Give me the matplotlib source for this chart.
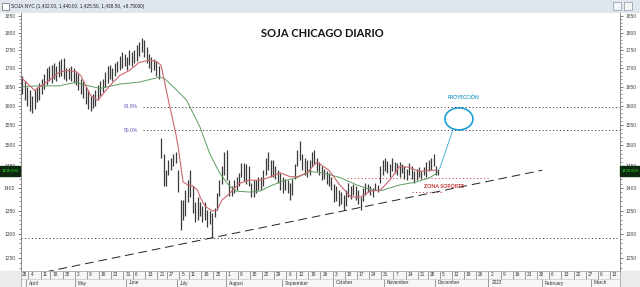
import matplotlib
matplotlib.use('Agg')
import matplotlib.pyplot as plt
import numpy as np
import pandas as pd
from matplotlib.patches import Ellipse, Rectangle
from matplotlib.ticker import FixedLocator, NullFormatter, FixedFormatter

# ---------------- data ----------------
holidays = ['2022-04-15', '2022-05-30', '2022-06-20', '2022-07-04', '2022-09-05', '2022-11-24']
hist_start, hist_end = '2022-03-28', '2022-12-02'
future_start, future_end = '2022-12-05', '2023-03-24'
first_bar = 2  # index of first bar drawn (Mar 30)

bar_lows = [
    1630, 1615, 1600, 1585, 1580, 1590, 1610, 1615, 1630, 1645, 1655, 1665, 1660, 1670, 1665, 1675, 1680, 1670, 1665,
    1670, 1665, 1660, 1655, 1640, 1630, 1620, 1605, 1590, 1585, 1595, 1600, 1615, 1625, 1635, 1650, 1660, 1670, 1665,
    1680, 1690, 1695, 1700, 1705, 1695, 1710, 1705, 1715, 1720, 1735, 1745, 1730, 1715, 1700, 1690,
    1695, 1680, 1670,
    1470, 1405, 1405, 1430, 1441, 1450, 1458, 1391, 1308, 1329, 1339, 1368, 1380, 1345, 1325, 1329, 1339, 1325, 1329,
    1315, 1320, 1292, 1335, 1351, 1382, 1410, 1430, 1418, 1382,
    1382, 1389, 1395, 1405, 1426, 1415, 1410, 1405, 1380, 1380, 1389, 1395, 1395, 1405, 1430, 1441, 1426, 1426, 1420,
    1412, 1395, 1389, 1395, 1389, 1373, 1385, 1420, 1450, 1465, 1441, 1430, 1426, 1430, 1450, 1455, 1440, 1430, 1418,
    1420, 1410, 1405, 1395, 1368,
    1370, 1360, 1365, 1351, 1360, 1380, 1375, 1385, 1373, 1365, 1352, 1370, 1385, 1390, 1385, 1380,
    1395, 1392, 1412, 1430, 1440, 1435, 1426, 1440, 1435, 1430, 1425, 1435, 1420, 1418, 1430, 1420, 1412, 1418, 1425,
    1420, 1430, 1426, 1440, 1441, 1450, 1430, 1430,
]
bar_highs = [
    1680, 1665, 1650, 1640, 1625, 1640, 1650, 1660, 1670, 1685, 1700, 1705, 1710, 1715, 1705, 1720, 1725, 1728, 1700,
    1700, 1705, 1700, 1690, 1685, 1670, 1665, 1650, 1640, 1625, 1630, 1640, 1655, 1665, 1670, 1690, 1705, 1710, 1700,
    1715, 1720, 1735, 1745, 1740, 1730, 1750, 1745, 1750, 1765, 1775, 1785, 1780, 1760, 1740, 1730,
    1725, 1720, 1705,
    1518, 1480, 1441, 1465, 1470, 1480, 1485, 1441, 1373, 1373, 1395, 1418, 1441, 1405, 1368, 1380, 1368, 1360, 1368,
    1351, 1350, 1345, 1355, 1389, 1418, 1450, 1485, 1489, 1418,
    1405, 1418, 1426, 1435, 1458, 1458, 1455, 1450, 1412, 1418, 1418, 1426, 1426, 1441, 1470, 1485, 1465, 1465, 1450,
    1441, 1435, 1426, 1420, 1418, 1412, 1420, 1455, 1489, 1510, 1480, 1470, 1465, 1465, 1485, 1489, 1470, 1460, 1450,
    1445, 1440, 1435, 1426, 1410,
    1405, 1395, 1390, 1385, 1395, 1412, 1405, 1410, 1405, 1395, 1380, 1400, 1412, 1410, 1405, 1400,
    1412, 1408, 1450, 1465, 1470, 1462, 1455, 1470, 1460, 1458, 1460, 1455, 1450, 1445, 1458, 1450, 1440, 1445, 1448,
    1440, 1448, 1460, 1465, 1470, 1480, 1450, 1445,
]

# moving averages (x = trading-day index)
red_x = [1.5, 7, 13, 17, 20, 24, 26, 28, 30, 33, 38, 42, 46, 50, 54, 57, 59, 62, 65, 66, 68, 70, 72, 74, 75, 77, 80,
         82, 84, 87, 91, 95, 100, 104, 108, 112, 115, 119, 123, 128, 132, 137, 141, 145, 149, 153, 157, 161, 165,
         169, 172]
red_ma = [1675, 1640, 1667, 1688, 1694, 1691, 1680, 1653, 1627, 1614, 1653, 1680, 1694, 1716, 1722, 1719, 1708, 1614,
          1530, 1497, 1414, 1407, 1405, 1395, 1380, 1360, 1349, 1351, 1373, 1387, 1410, 1418, 1418, 1426, 1435, 1426,
          1426, 1435, 1460, 1441, 1410, 1380, 1380, 1393, 1395, 1418, 1450, 1448, 1438, 1441, 1441]
green_x = [1.5, 9, 17, 24, 26, 34, 42, 50, 58.5, 60.5, 65.5, 69.5, 75, 79, 83, 87, 90, 95.5, 99.5, 104, 109, 115,
           120, 125.5, 132.5, 139.5, 146, 150, 157, 164, 169.5, 172.5]
green_ma = [1650, 1652, 1652, 1662, 1657, 1645, 1657, 1662, 1676, 1671, 1640, 1614, 1545, 1480, 1435, 1405, 1393,
            1391, 1393, 1405, 1416, 1424, 1438, 1435, 1424, 1407, 1395, 1395, 1407, 1414, 1424, 1435]

fib_levels = [1597, 1538]
fib_labels = ['61.8%', '50.0%']
support_level = 1291
zona_levels = [1422, 1392]
zona_x = [(135.4, 194.2), (162.1, 174.9)]
trend_x = [11.3, 215.6]
trend_y = [1222, 1441]
proj_x = [173.5, 179.0]
proj_y = [1445, 1540]
proj_target = (181.4, 1566)
last_price = 1438.5
yticks = list(range(1250, 1851, 50))
title = 'SOJA CHICAGO DIARIO'
header = 'SOJA.NYC (1,432.00, 1,440.00, 1,425.50, 1,438.50, +8.75000)'

# ---------------- calendar ----------------
hist = pd.bdate_range(hist_start, hist_end)
hist = hist[~hist.isin(pd.to_datetime(holidays))]
future = pd.bdate_range(future_start, future_end)
dates = hist.append(future)
x_all = np.arange(len(dates))
bar_x = x_all[first_bar:first_bar + len(bar_lows)]

W, H = 640, 287
fig = plt.figure(figsize=(6.4, 2.87), dpi=100)
fig.patch.set_facecolor('white')

# header bar
fig.patches.append(Rectangle((0, 1 - 12 / H), 1, 12 / H, transform=fig.transFigure, color='#dfe6ee', zorder=-2))
fig.patches.append(Rectangle((1.5 / W, 1 - 10 / H), 7 / W, 7 / H, transform=fig.transFigure, fc='white',
                             ec='#666', lw=0.5, zorder=-1))
fig.text(11 / W, 1 - 6.5 / H, header, fontsize=3.4, family='Liberation Sans', color='#222', va='center')
for bx in (613, 624):
    fig.patches.append(Rectangle((bx / W, 1 - 10 / H), 8 / W, 8 / H, transform=fig.transFigure, fc='#f4f6f8',
                                 ec='#8a95a5', lw=0.5, zorder=-1))
# bottom strip background
fig.patches.append(Rectangle((0, 0), 1, 16 / H, transform=fig.transFigure, color='#ebebeb', zorder=-2))

ax = fig.add_axes([21 / W, 16 / H, 599 / W, 258 / H])
ax.set_yscale('log')
x0, x1 = 1.42, 247.6
ax.set_xlim(x0, x1)
ax.set_ylim(1224, 1859)

ax.yaxis.set_major_locator(FixedLocator(yticks))
ax.yaxis.set_major_formatter(FixedFormatter([str(v) for v in yticks]))
ax.yaxis.set_minor_locator(FixedLocator(list(range(1230, 1860, 10))))
ax.yaxis.set_minor_formatter(NullFormatter())
ax.tick_params(axis='y', which='both', left=True, right=True, labelleft=True, labelright=True,
               direction='out', colors='#444', labelsize=3.6, pad=1.5)
ax.tick_params(axis='y', which='major', length=2.5, width=0.5)
ax.tick_params(axis='y', which='minor', length=1.2, width=0.4)
for lab in ax.get_yticklabels():
    lab.set_family('Liberation Sans')
ax.set_xticks([])
for s in ('left', 'right', 'bottom'):
    ax.spines[s].set_color('#777')
    ax.spines[s].set_linewidth(0.6)
ax.spines['top'].set_visible(False)

dotted = (0, (1.2, 2.4))

# price bars
ax.vlines(bar_x, bar_lows, bar_highs, color='#3a3a3a', lw=0.9, zorder=3)
# moving averages
ax.plot(green_x, green_ma, color='#5e9e5e', lw=0.7, zorder=4)
ax.plot(red_x, red_ma, color='#cc6670', lw=0.8, zorder=4)

# fibonacci lines
for lvl, lab in zip(fib_levels, fib_labels):
    ax.hlines(lvl, 51.6, x1, colors='#444', linestyles=dotted, lw=0.7)
    ax.text(43.8, lvl, lab, fontsize=3.6, color='#5a5ab8', va='center', ha='left', family='Liberation Sans')
ax.hlines(support_level, x0, x1, colors='#444', linestyles=dotted, lw=0.7)

# support zone
for lvl, (xa, xb) in zip(zona_levels, zona_x):
    ax.hlines(lvl, xa, xb, colors='#c84848', linestyles=dotted, lw=0.7)
ax.text(175.3, 1404, 'ZONA SOPORTE', fontsize=3.8, color='#c03030', fontweight='bold', ha='center', va='center',
        family='Lato')

# trend line
ax.plot(trend_x, trend_y, color='#222', lw=0.7, dashes=(9, 5), zorder=2)

# projection
ax.plot(proj_x, proj_y, color='#3aa6cc', lw=0.6, zorder=5)
cx, cy = ax.transAxes.inverted().transform(ax.transData.transform(proj_target))
ax.add_patch(Ellipse((cx, cy), 28 / 599, 22 / 258, transform=ax.transAxes, fill=False, ec='#1c9fd6', lw=1.2))
ax.text(183.1, 1622, 'PROYECCIÓN', fontsize=3.6, color='#2aa0c8', fontweight='bold', ha='center', va='center',
        family='Lato')

# title
ax.text(0.5025, 0.922, title, transform=ax.transAxes, fontsize=8, fontweight='bold', family='Lato',
        ha='center', va='center', color='#111')

# last price boxes
ypix = ax.transData.transform((x0, last_price))[1]
for bx in (0, 620):
    fig.patches.append(Rectangle((bx / W, (ypix - 5) / H), 20 / W, 10 / H, transform=fig.transFigure,
                                 color='#0e2a0e', zorder=5))
    fig.text((bx + 10) / W, ypix / H, f'{last_price:.3f}', fontsize=3.0, color='#2fe02f', ha='center',
             va='center', family='Liberation Sans', zorder=6)

# date strip
ax2 = fig.add_axes([21 / W, 0, 599 / W, 16 / H])
ax2.set_xlim(x0, x1)
ax2.set_ylim(0, 2)
ax2.set_facecolor('#f6f6f6')
ax2.set_xticks([])
ax2.set_yticks([])
for s in ax2.spines.values():
    s.set_color('#999')
    s.set_linewidth(0.5)
week_pos, week_lab, mon_pos, mon_lab = [], [], [], []
for i, d in enumerate(dates):
    if i == 0 or d.to_period('W') != dates[i - 1].to_period('W'):
        week_pos.append(i - 0.5)
        week_lab.append(str(d.day))
    if i > 0 and d.month != dates[i - 1].month:
        mon_pos.append(i - 0.5)
        mon_lab.append(str(d.year) if d.month == 1 else d.strftime('%B'))
ax2.vlines([p for p in week_pos if p > x0], 1, 2, colors='#777', lw=0.5)
ax2.vlines([p for p in mon_pos if p > x0], 0, 1, colors='#777', lw=0.5)
ax2.hlines(1, x0, x1, colors='#bbb', lw=0.4)
for p, t in zip(week_pos, week_lab):
    if p > x1:
        continue
    ax2.text(max(p, x0 - 0.6) + 0.8, 1.5, t, fontsize=3.4, color='#333', va='center', ha='left',
             family='Liberation Sans')
for p, t in zip(mon_pos, mon_lab):
    if p > x1:
        continue
    ax2.text(max(p, x0) + 1.2, 0.5, t, fontsize=3.4, color='#333', va='center', ha='left',
             family='Liberation Sans')

fig.savefig('out.png', dpi=100)
